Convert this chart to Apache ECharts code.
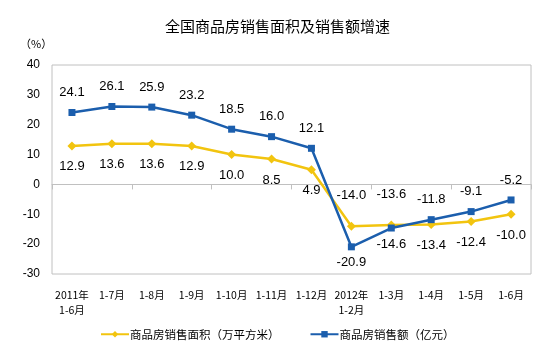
<!DOCTYPE html>
<html>
<head>
<meta charset="utf-8">
<script src="https://cdn.jsdelivr.net/npm/echarts@6/dist/echarts.min.js"></script>
<style>
html,body{margin:0;padding:0;background:#fff;}
#main{width:555px;height:353px;}
</style>
</head>
<body>
<div id="main"></div>
<script>
var categories = ['2011年\n1-6月','1-7月','1-8月','1-9月','1-10月','1-11月','1-12月','2012年\n1-2月','1-3月','1-4月','1-5月','1-6月'];
var areaGrowth = [12.9, 13.6, 13.6, 12.9, 10.0, 8.5, 4.9, -14.0, -13.6, -13.4, -12.4, -10.0];
var salesGrowth = [24.1, 26.1, 25.9, 23.2, 18.5, 16.0, 12.1, -20.9, -14.6, -11.8, -9.1, -5.2];
var yTicks = [-30, 40, 10];

var flipIdx = [7, 8];   // label flips where the lines cross

var myChart = echarts.init(document.getElementById('main'));

var font = 'Noto Sans CJK SC';

function buildData(vals, flipPos, flipOffset){
    var out = [];
    for(var i = 0; i < vals.length; i++){
        var item = {value: vals[i]};
        if(flipIdx.indexOf(i) >= 0){
            item.label = {position: flipPos, distance: flipOffset};
        }
        out.push(item);
    }
    return out;
}

var option = {
    animation: false,
    title: {
        text: '全国商品房销售面积及销售额增速',
        left: 'center',
        top: 14,
        textStyle: {fontFamily: font, fontSize: 15, fontWeight: 'normal', color: '#000'}
    },
    legend: {
        bottom: 8,
        left: 95,
        itemWidth: 28,
        itemHeight: 8,
        itemGap: 30,
        textStyle: {fontFamily: font, fontSize: 11.5, color: '#000', padding: [0,0,0,-4]},
        data: ['商品房销售面积（万平方米）', '商品房销售额（亿元）']
    },
    graphic: [{
        type: 'text',
        left: 20,
        top: 38,
        style: {text: '（%）', font: '11px "Noto Sans CJK SC"', fill: '#000'}
    }],
    grid: {
        left: 52,
        right: 24,
        top: 65,
        bottom: 79,
        show: true,
        borderColor: '#C0C0C0',
        borderWidth: 1
    },
    xAxis: [{
        type: 'category',
        position: 'bottom',
        boundaryGap: true,
        data: categories,
        axisLine: {show: false, onZero: false},
        axisTick: {show: false},
        axisLabel: {
            interval: 0,
            margin: 14,
            fontFamily: font,
            fontSize: 10.5,
            color: '#000',
            lineHeight: 15
        }
    }, {
        type: 'category',
        position: 'top',
        boundaryGap: true,
        data: categories,
        axisLine: {show: true, onZero: true, lineStyle: {color: '#C0C0C0', width: 1}},
        axisTick: {show: true, inside: true, length: 5, lineStyle: {color: '#C0C0C0'}},
        axisLabel: {show: false}
    }],
    yAxis: {
        type: 'value',
        min: yTicks[0],
        max: yTicks[1],
        interval: yTicks[2],
        axisLine: {show: false},
        axisTick: {show: false},
        splitLine: {show: false},
        axisLabel: {margin: 12, fontFamily: 'Liberation Sans', fontSize: 12, color: '#000'}
    },
    series: [{
        name: '商品房销售面积（万平方米）',
        type: 'line',
        xAxisIndex: 0,
        data: buildData(areaGrowth, 'top', 20),
        symbol: 'diamond',
        symbolSize: 9,
        itemStyle: {color: '#F2C40F'},
        lineStyle: {width: 2.5, color: '#F2C40F'},
        label: {
            show: true,
            position: 'bottom',
            distance: 10,
            fontFamily: 'Liberation Sans',
            fontSize: 13,
            color: '#000',
            formatter: function(p){ return p.value.toFixed(1); }
        },
        z: 2
    }, {
        name: '商品房销售额（亿元）',
        type: 'line',
        xAxisIndex: 0,
        data: buildData(salesGrowth, 'bottom', 6),
        symbol: 'rect',
        symbolSize: 7,
        itemStyle: {color: '#1B5EAD'},
        lineStyle: {width: 2.5, color: '#1B5EAD'},
        label: {
            show: true,
            position: 'top',
            distance: 10,
            fontFamily: 'Liberation Sans',
            fontSize: 13,
            color: '#000',
            formatter: function(p){ return p.value.toFixed(1); }
        },
        z: 3
    }]
};

if (option && typeof option === 'object') {
    myChart.setOption(option);
}
</script>
</body>
</html>
